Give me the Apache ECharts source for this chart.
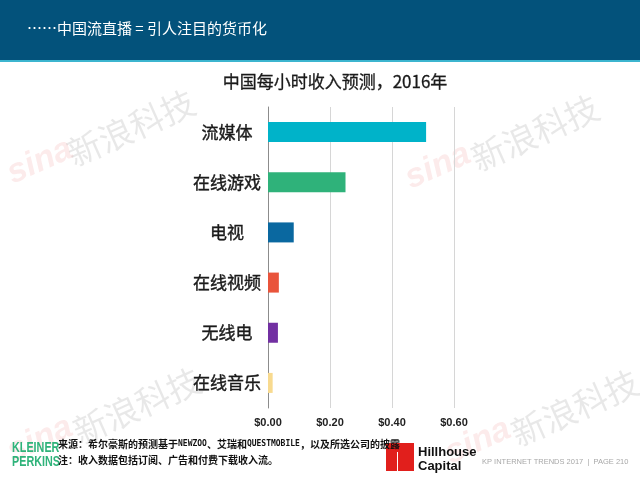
<!DOCTYPE html>
<html>
<head>
	<meta charset="utf-8">
	<script src="https://cdn.jsdelivr.net/npm/echarts@6/dist/echarts.min.js"></script>
	<style>
		html, body { margin: 0; padding: 0; background: #fff; }
		#container { width: 640px; height: 481px; }
	</style>
</head>
<body>
	<div id="container"></div>
	<script type="text/javascript">
		// 数据
		var categories = ['流媒体', '在线游戏', '电视', '在线视频', '无线电', '在线音乐'];
		var revenuePerHour = [0.51, 0.25, 0.083, 0.035, 0.032, 0.015];
		var barColors = ['#00b3c9', '#2fb27a', '#0a68a0', '#e9543b', '#7230a2', '#f8da8f'];
		var tickValues = [0, 0.2, 0.4, 0.6];

		var cjk = '"Noto Sans CJK SC", "Noto Sans", sans-serif';

		var dom = document.getElementById('container');
		var myChart = echarts.init(dom, null, { renderer: 'canvas' });
		var option = null;

		// 水印：sina + 新浪科技
		function watermark(sx, sy, tx, ty) {
			return [{
				type: 'text', x: sx, y: sy, rotation: 0.42, z: 0,
				style: { text: 'sina', font: 'italic bold 34px "Liberation Sans", sans-serif', fill: 'rgba(225,70,70,0.11)', verticalAlign: 'top' }
			}, {
				type: 'text', x: tx, y: ty, rotation: 0.42, z: 0,
				style: { text: '新浪科技', font: '34px ' + cjk, fill: 'rgba(0,0,0,0.09)', verticalAlign: 'top' }
			}];
		}

		var graphics = [
			// 顶部标题栏
			{ type: 'rect', shape: { x: 0, y: 0, width: 640, height: 60 }, style: { fill: '#03527b' }, z: 1 },
			{ type: 'rect', shape: { x: 0, y: 60, width: 640, height: 2 }, style: { fill: '#3cb5cf' }, z: 1 },
			{ type: 'text', left: 27, top: 21, z: 2, style: { text: '……中国流直播 = 引人注目的货币化', font: '15px ' + cjk, fill: '#ffffff' } },
			// 底部
			{ type: 'text', x: 12, y: 441, scaleX: 0.72, z: 2, style: { text: 'KLEINER\nPERKINS', font: 'bold 15px "Liberation Sans", Arial, sans-serif', lineHeight: 14, fill: '#2fb37a', verticalAlign: 'top' } },
			{ type: 'text', x: 58, y: 439, z: 2, style: {
				text: '来源：希尔豪斯的预测基于{m|NEWZOO}、艾瑞和{m|QUESTMOBILE}，以及所选公司的披露',
				font: 'bold 10px ' + cjk, fill: '#111', verticalAlign: 'top',
				rich: { m: { font: 'bold 8px "DejaVu Sans Mono", monospace', fill: '#111' } }
			} },
			{ type: 'text', x: 58, y: 455, z: 2, style: { text: '注：收入数据包括订阅、广告和付费下载收入流。', font: 'bold 10px ' + cjk, fill: '#111', verticalAlign: 'top' } },
			{ type: 'rect', shape: { x: 386, y: 443, width: 28, height: 28 }, style: { fill: '#e11f1c' }, z: 1 },
			{ type: 'rect', shape: { x: 397, y: 452, width: 1, height: 19 }, style: { fill: '#ffffff' }, z: 1 },
			{ type: 'text', x: 418, y: 445, z: 2, style: { text: 'Hillhouse\nCapital', font: 'bold 13px "Liberation Sans", Arial, sans-serif', lineHeight: 14, fill: '#111', verticalAlign: 'top' } },
			{ type: 'text', x: 482, y: 458, z: 2, style: { text: 'KP INTERNET TRENDS 2017  |  PAGE 210', font: '7.5px "Liberation Sans", Arial, sans-serif', fill: '#a8a8a8', verticalAlign: 'top' } }
		];
		graphics = graphics
			.concat(watermark(2, 160, 62, 140))
			.concat(watermark(400, 165, 466, 145))
			.concat(watermark(2, 438, 68, 418))
			.concat(watermark(440, 440, 506, 420));

		var seriesData = revenuePerHour.map(function(v, i) {
			return { value: v, itemStyle: { color: barColors[i] } };
		});

		option = {
			animation: false,
			title: {
				text: '中国每小时收入预测，2016年',
				left: 330,
				top: 68,
				textAlign: 'center',
				textStyle: { fontFamily: cjk, fontSize: 17, fontWeight: 'normal', color: '#1a1a1a', textBorderColor: '#1a1a1a', textBorderWidth: 0.3 }
			},
			graphic: graphics,
			grid: {
				left: 268,
				right: 186,
				top: 107,
				bottom: 73,
				containLabel: false
			},
			xAxis: {
				type: 'value',
				min: 0,
				max: 0.6,
				interval: 0.2,
				axisLine: { show: false },
				axisTick: { show: false },
				splitLine: { show: true, lineStyle: { color: '#d6d6d6', width: 1 } },
				axisLabel: {
					margin: 9,
					fontFamily: '"Liberation Sans", Arial, sans-serif',
					fontSize: 11,
					fontWeight: 'bold',
					color: '#222',
					customValues: tickValues,
					formatter: function(v) { return '$' + v.toFixed(2); }
				}
			},
			yAxis: {
				type: 'category',
				data: categories,
				inverse: true,
				axisLine: { show: true, lineStyle: { color: '#8c8c8c', width: 1 } },
				axisTick: { show: false },
				axisLabel: {
					margin: 41,
					align: 'center',
					fontFamily: cjk,
					fontSize: 17,
					color: '#1a1a1a',
					textBorderColor: '#1a1a1a',
					textBorderWidth: 0.4
				}
			},
			series: [{
				type: 'bar',
				barWidth: 20,
				data: seriesData,
				z: 3
			}]
		};

		if (option && typeof option === 'object') {
			myChart.setOption(option, true);
		}
	</script>
</body>
</html>
